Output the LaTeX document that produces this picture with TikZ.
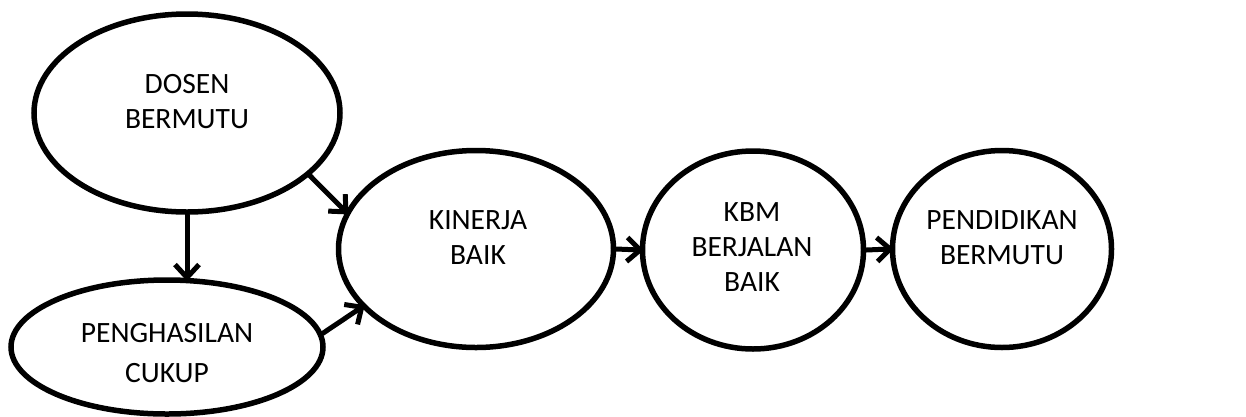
\documentclass[tikz,border=0pt]{standalone}
\usepackage{fontspec}
\setmainfont{Carlito}
\usetikzlibrary{shapes.geometric,arrows.meta}
\begin{document}
\begin{tikzpicture}[x=1pt,y=-1pt,
  ell/.style={draw=black,line width=5.5pt,ellipse,inner sep=0pt,fill=white},
  txt/.style={align=center,font=\fontsize{29.5}{35}\selectfont,inner sep=0pt},
  arr/.style={line width=5pt,-{Straight Barb[length=13pt,width=24pt,line width=5pt]},line cap=round,shorten >=-4pt}]
\useasboundingbox (0,0) rectangle (1246,416);
\begin{scope}
\clip (0,0) rectangle (1246,416);
\node[ell,minimum width=306pt,minimum height=198pt] (dosen) at (187,113) {};
\node[ell,minimum width=312pt,minimum height=134pt] (peng) at (167,347) {};
\node[ell,minimum width=275pt,minimum height=197pt] (kin) at (476,249) {};
\node[ell,minimum width=221pt,minimum height=198pt] (kbm) at (753,250) {};
\node[ell,minimum width=219pt,minimum height=197pt] (pend) at (1002,249) {};
\end{scope}
\node[txt] (dosent) at (187,102) {DOSEN\\BERMUTU};
\node[txt] (pengt) at (167,353) {PENGHASILAN\\[5pt]CUKUP};
\node[txt] (kint) at (478,238) {KINERJA\\BAIK};
\node[txt] (kbmt) at (752,247) {KBM\\BERJALAN\\BAIK};
\node[txt] (pendt) at (1002,238) {PENDIDIKAN\\BERMUTU};
\draw[arr] (dosen.south) -- (dosen.south |- peng.north);
\draw[arr] (dosen.-27) -- (kin.164);
\draw[arr] (peng.5) -- (kin.207);
\draw[arr] (kin.east) -- (kbm.west);
\draw[arr] (kbm.east) -- (pend.west);
\end{tikzpicture}
\end{document}
